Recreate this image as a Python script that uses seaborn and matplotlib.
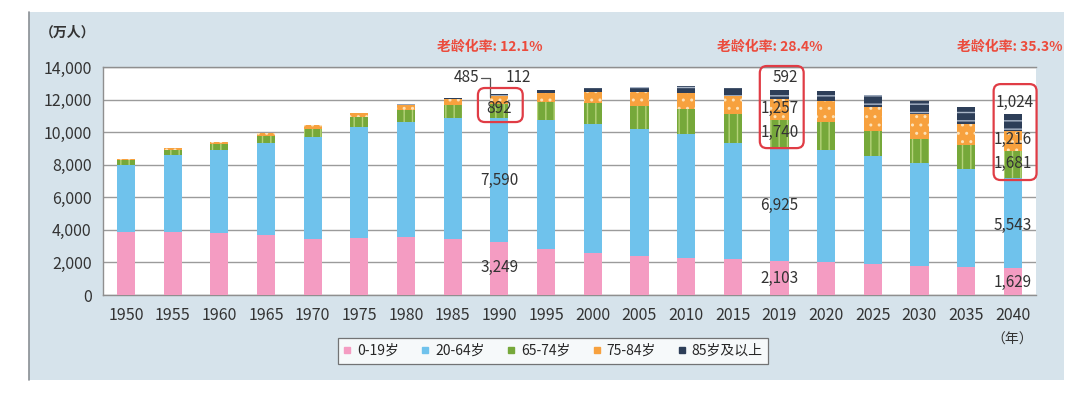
"""
Japan population by age group, 1950-2040 (stacked bars)
"""

import matplotlib

matplotlib.use("Agg")
import matplotlib.pyplot as plt
from matplotlib.patches import Rectangle, FancyBboxPatch
from matplotlib.lines import Line2D
import numpy as np
import seaborn as sns

# data (万人)
years = ['1950', '1955', '1960', '1965', '1970', '1975', '1980', '1985', '1990', '1995',
         '2000', '2005', '2010', '2015', '2019', '2020', '2025', '2030', '2035', '2040']
age_0_19 = [3840, 3840, 3780, 3670, 3430, 3490, 3560, 3460, 3249, 2810,
            2550, 2400, 2290, 2190, 2103, 2010, 1900, 1800, 1700, 1629]
age_20_64 = [4140, 4730, 5100, 5680, 6280, 6820, 7080, 7400, 7590, 7920,
             7940, 7810, 7590, 7170, 6925, 6870, 6640, 6330, 6010, 5543]
age_65_74 = [300, 330, 370, 430, 510, 600, 700, 780, 892, 1110,
             1300, 1410, 1520, 1750, 1740, 1730, 1500, 1430, 1500, 1681]
age_75_84 = [90, 120, 150, 170, 200, 250, 310, 390, 485, 570,
             680, 870, 1030, 1100, 1257, 1300, 1500, 1530, 1290, 1216]
age_85_up = [8, 12, 15, 20, 25, 40, 55, 80, 112, 150,
             220, 290, 380, 500, 592, 620, 720, 830, 1020, 1024]
group_names = ['0-19岁', '20-64岁', '65-74岁', '75-84岁', '85岁及以上']
aging_labels = ['老龄化率: 12.1%', '老龄化率: 28.4%', '老龄化率: 35.3%']

colors = ['#f49cc2', '#6fc2ec', '#76a83a', '#f7a13e', '#2d3e58']
hatches = [None, None, '||', '..', '--']
hatch_colors = ['#f49cc2', '#6fc2ec', '#b5d27a', '#fde2b8', '#aab6c8']

sns.set_style("white")
plt.rcParams['font.family'] = ['Noto Sans CJK SC', 'DejaVu Sans']
plt.rcParams['hatch.linewidth'] = 1.0

W, H = 1080, 394
fig = plt.figure(figsize=(W / 100, H / 100), dpi=100)
fig.patch.set_facecolor('white')

# light panel behind the chart
fig.patches.append(Rectangle((29 / W, 1 - 380 / H), (1064 - 29) / W, (380 - 12) / H,
                             transform=fig.transFigure, facecolor='#d6e3eb',
                             edgecolor='none', zorder=-2))
fig.lines.append(Line2D([29 / W, 29 / W], [1 - 380 / H, 1 - 12 / H],
                        transform=fig.transFigure, color='#8a8f94', lw=1.2, zorder=-1))

ax = fig.add_axes([102.7 / W, 1 - 295 / H, 933.4 / W, 228 / H])
ax.set_zorder(2)
ax.set_facecolor('white')

# stacked bars: draw cumulative totals from the top down
series = [age_0_19, age_20_64, age_65_74, age_75_84, age_85_up]
cum = np.cumsum(np.array(series), axis=0)
for i in range(len(series) - 1, -1, -1):
    sns.barplot(x=years, y=cum[i], color=colors[i], saturation=1, width=0.39,
                errorbar=None, hatch=hatches[i], edgecolor=hatch_colors[i],
                linewidth=0, ax=ax, zorder=3)

ax.set_xlim(-0.5, len(years) - 0.5)
ax.set_ylim(0, 14000)
ax.set_yticks(range(0, 14001, 2000))
ax.set_yticklabels([f'{v:,}' for v in range(0, 14001, 2000)])
ax.yaxis.grid(True, color='#9b9b9b', lw=1.0, zorder=0)
ax.set_axisbelow(True)
ax.tick_params(axis='both', length=0, labelsize=11.5, colors='#333333')
ax.tick_params(axis='x', pad=9)
ax.tick_params(axis='y', pad=8)
ax.set_xlabel('')
ax.set_ylabel('')
for side in ['top', 'left', 'bottom']:
    ax.spines[side].set_color('#8f8f8f')
    ax.spines[side].set_linewidth(1.0)
ax.spines['right'].set_visible(False)

# value labels
lab_kw = dict(ha='center', va='center', fontsize=11, color='#333333', zorder=6)
ax.text(8, 11480, f'{age_65_74[8]:,}', **lab_kw)
ax.text(8, 7060, f'{age_20_64[8]:,}', **lab_kw)
ax.text(8, 1660, f'{age_0_19[8]:,}', **lab_kw)
ax.text(8.4, 13330, f'{age_85_up[8]:,}', **lab_kw)
ax.text(7.3, 13330, f'{age_75_84[8]:,}', **lab_kw)
ax.annotate('', xy=(7.8, cum[3][8] - 80), xytext=(7.6, 13330), annotation_clip=False,
            arrowprops=dict(arrowstyle='-', color='#555555', lw=0.9,
                            connectionstyle='angle,angleA=0,angleB=90,rad=0',
                            shrinkA=0, shrinkB=0))

ax.text(14.12, 13330, f'{age_85_up[14]:,}', **lab_kw)
ax.text(14, 11480, f'{age_75_84[14]:,}', **lab_kw)
ax.text(14, 10000, f'{age_65_74[14]:,}', **lab_kw)
ax.text(14, 5520, f'{age_20_64[14]:,}', **lab_kw)
ax.text(14, 1040, f'{age_0_19[14]:,}', **lab_kw)

ax.text(19.05, 11850, f'{age_85_up[19]:,}', **lab_kw)
ax.text(19, 9520, f'{age_75_84[19]:,}', **lab_kw)
ax.text(19, 8100, f'{age_65_74[19]:,}', **lab_kw)
ax.text(19, 4300, f'{age_20_64[19]:,}', **lab_kw)
ax.text(19, 740, f'{age_0_19[19]:,}', **lab_kw)

# red highlight boxes
asp = (1000 / 16.29) * 46.7
for x0, x1, y0, y1 in [(7.54, 8.5, 10620, 12710), (13.58, 14.52, 9020, 14060),
                       (18.59, 19.51, 7060, 12950)]:
    ax.add_patch(FancyBboxPatch((x0, y0), x1 - x0, y1 - y0,
                                boxstyle='round,pad=0,rounding_size=0.15',
                                mutation_aspect=asp, facecolor='none',
                                edgecolor='#e03c45', lw=1.6, clip_on=False, zorder=7))

# aging rate titles
for xp, txt in zip([490, 770, 1010], aging_labels):
    fig.text(xp / W, 1 - 47 / H, txt, ha='center', va='center', fontsize=10,
             color='#ec4b3c', fontweight='bold')

fig.text(68 / W, 1 - 33 / H, '（万人）', ha='center', va='center', fontsize=10,
         color='#333333', fontweight='bold')
fig.text(1012 / W, 1 - 340 / H, '（年）', ha='center', va='center', fontsize=10,
         color='#333333')

# legend
handles = [Line2D([], [], marker='s', ls='none', markersize=5, color=c) for c in colors]
leg = fig.legend(handles, group_names, loc='center', bbox_to_anchor=(553 / W, 1 - 351 / H),
                 ncol=5, frameon=True, fancybox=False, fontsize=10, handlelength=0.6,
                 handletextpad=0.4, columnspacing=1.6, borderpad=0.4)
leg.get_frame().set_edgecolor('#555555')
leg.get_frame().set_linewidth(0.9)

fig.savefig('out.png', dpi=100)
plt.close(fig)
